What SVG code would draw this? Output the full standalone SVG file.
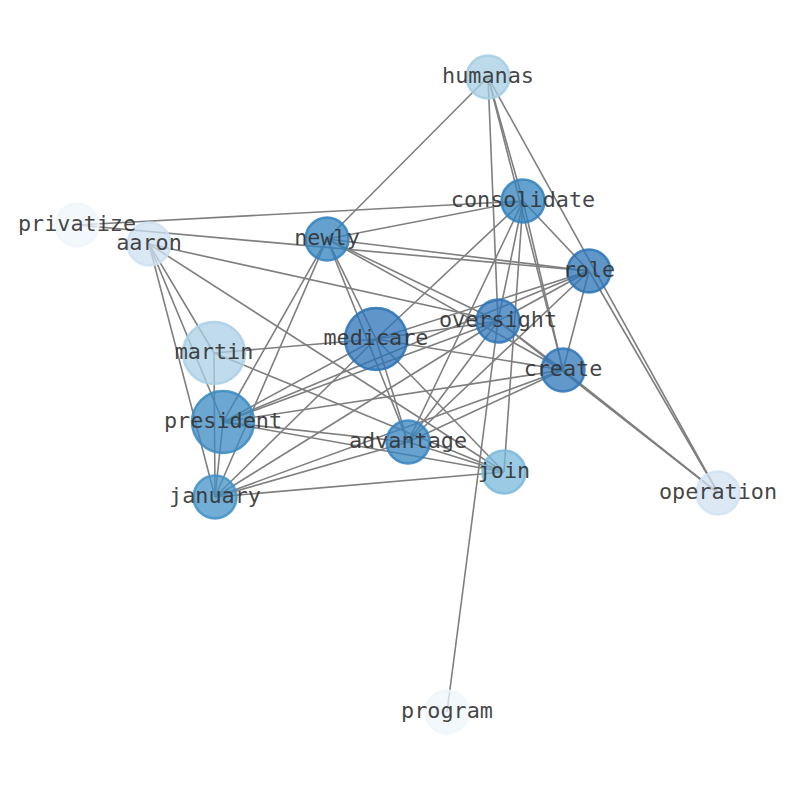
<svg xmlns="http://www.w3.org/2000/svg" width="794" height="790" viewBox="0 0 794 790">
<style>
.e{stroke:#7f7f7f;stroke-width:1.6;fill:none}
.n{fill-opacity:0.75;stroke-width:2.5;stroke-opacity:0.85}
.t{font-family:"DejaVu Sans Mono","Liberation Mono",monospace;font-size:21.8px;fill:#333;fill-opacity:0.92;text-anchor:middle;dominant-baseline:central}
</style>
<rect width="794" height="790" fill="#fff"/>
<g id="edges">
<line class="e" x1="488" y1="77" x2="327" y2="239"/>
<line class="e" x1="488" y1="77" x2="498" y2="321"/>
<line class="e" x1="488" y1="77" x2="523" y2="201"/>
<line class="e" x1="488" y1="77" x2="563" y2="370"/>
<line class="e" x1="488" y1="77" x2="718" y2="493"/>
<line class="e" x1="77" y1="225" x2="523" y2="201"/>
<line class="e" x1="77" y1="225" x2="589" y2="271"/>
<line class="e" x1="149" y1="244" x2="498" y2="321"/>
<line class="e" x1="149" y1="244" x2="504" y2="472"/>
<line class="e" x1="149" y1="244" x2="215" y2="497"/>
<line class="e" x1="149" y1="244" x2="223" y2="422"/>
<line class="e" x1="149" y1="244" x2="214" y2="353"/>
<line class="e" x1="327" y1="239" x2="523" y2="201"/>
<line class="e" x1="327" y1="239" x2="589" y2="271"/>
<line class="e" x1="327" y1="239" x2="498" y2="321"/>
<line class="e" x1="327" y1="239" x2="563" y2="370"/>
<line class="e" x1="327" y1="239" x2="376" y2="339"/>
<line class="e" x1="327" y1="239" x2="408" y2="442"/>
<line class="e" x1="327" y1="239" x2="223" y2="422"/>
<line class="e" x1="327" y1="239" x2="215" y2="497"/>
<line class="e" x1="523" y1="201" x2="376" y2="339"/>
<line class="e" x1="523" y1="201" x2="589" y2="271"/>
<line class="e" x1="523" y1="201" x2="498" y2="321"/>
<line class="e" x1="523" y1="201" x2="563" y2="370"/>
<line class="e" x1="523" y1="201" x2="408" y2="442"/>
<line class="e" x1="523" y1="201" x2="504" y2="472"/>
<line class="e" x1="214" y1="353" x2="376" y2="339"/>
<line class="e" x1="214" y1="353" x2="504" y2="472"/>
<line class="e" x1="214" y1="353" x2="215" y2="497"/>
<line class="e" x1="223" y1="422" x2="376" y2="339"/>
<line class="e" x1="223" y1="422" x2="563" y2="370"/>
<line class="e" x1="223" y1="422" x2="408" y2="442"/>
<line class="e" x1="223" y1="422" x2="504" y2="472"/>
<line class="e" x1="223" y1="422" x2="215" y2="497"/>
<line class="e" x1="223" y1="422" x2="498" y2="321"/>
<line class="e" x1="215" y1="497" x2="376" y2="339"/>
<line class="e" x1="215" y1="497" x2="498" y2="321"/>
<line class="e" x1="215" y1="497" x2="563" y2="370"/>
<line class="e" x1="215" y1="497" x2="408" y2="442"/>
<line class="e" x1="215" y1="497" x2="504" y2="472"/>
<line class="e" x1="376" y1="339" x2="498" y2="321"/>
<line class="e" x1="376" y1="339" x2="589" y2="271"/>
<line class="e" x1="376" y1="339" x2="563" y2="370"/>
<line class="e" x1="376" y1="339" x2="408" y2="442"/>
<line class="e" x1="376" y1="339" x2="504" y2="472"/>
<line class="e" x1="498" y1="321" x2="589" y2="271"/>
<line class="e" x1="498" y1="321" x2="408" y2="442"/>
<line class="e" x1="498" y1="321" x2="563" y2="370"/>
<line class="e" x1="498" y1="321" x2="718" y2="493"/>
<line class="e" x1="447" y1="712" x2="498" y2="321"/>
<line class="e" x1="589" y1="271" x2="563" y2="370"/>
<line class="e" x1="589" y1="271" x2="408" y2="442"/>
<line class="e" x1="589" y1="271" x2="718" y2="493"/>
<line class="e" x1="589" y1="271" x2="223" y2="422"/>
<line class="e" x1="563" y1="370" x2="718" y2="493"/>
<line class="e" x1="563" y1="370" x2="408" y2="442"/>
<line class="e" x1="408" y1="442" x2="504" y2="472"/>
</g>
<g id="humanas"><circle class="n" cx="488" cy="77" r="21.5" fill="#a5cde3" stroke="#a5cde3"/><text class="t" x="488" y="75.5">humanas</text></g>
<g id="consolidate"><circle class="n" cx="523" cy="201" r="21.5" fill="#3181bd" stroke="#3181bd"/><text class="t" x="523" y="199.5">consolidate</text></g>
<g id="aaron"><circle class="n" cx="149" cy="244" r="21.5" fill="#cde0f1" stroke="#cde0f1"/><text class="t" x="149" y="242.5">aaron</text></g>
<g id="privatize"><circle class="n" cx="77" cy="225" r="21.5" fill="#eff6fc" stroke="#eff6fc"/><text class="t" x="77" y="223.5">privatize</text></g>
<g id="newly"><circle class="n" cx="327" cy="239" r="21.5" fill="#3181bd" stroke="#3181bd"/><text class="t" x="327" y="237.5">newly</text></g>
<g id="role"><circle class="n" cx="589" cy="271" r="21.5" fill="#2b73b6" stroke="#2b73b6"/><text class="t" x="589" y="269.5">role</text></g>
<g id="oversight"><circle class="n" cx="498" cy="321" r="21.5" fill="#2e76b8" stroke="#2e76b8"/><text class="t" x="498" y="319.5">oversight</text></g>
<g id="medicare"><circle class="n" cx="376" cy="339" r="31" fill="#2a72b5" stroke="#2a72b5"/><text class="t" x="376" y="337.5">medicare</text></g>
<g id="martin"><circle class="n" cx="214" cy="353" r="31" fill="#a9cfe5" stroke="#a9cfe5"/><text class="t" x="214" y="351.5">martin</text></g>
<g id="create"><circle class="n" cx="563" cy="370" r="21.5" fill="#2e76b8" stroke="#2e76b8"/><text class="t" x="563" y="368.5">create</text></g>
<g id="president"><circle class="n" cx="223" cy="422" r="31" fill="#3a8ac2" stroke="#3a8ac2"/><text class="t" x="223" y="420.5">president</text></g>
<g id="advantage"><circle class="n" cx="408" cy="442" r="21.5" fill="#3584bf" stroke="#3584bf"/><text class="t" x="408" y="440.5">advantage</text></g>
<g id="join"><circle class="n" cx="504" cy="472" r="21.5" fill="#7ab8dc" stroke="#7ab8dc"/><text class="t" x="504" y="470.5">join</text></g>
<g id="january"><circle class="n" cx="215" cy="497" r="21.5" fill="#4292c6" stroke="#4292c6"/><text class="t" x="215" y="495.5">january</text></g>
<g id="operation"><circle class="n" cx="718" cy="493" r="21.5" fill="#d0e2f2" stroke="#d0e2f2"/><text class="t" x="718" y="491.5">operation</text></g>
<g id="program"><circle class="n" cx="447" cy="712" r="21.5" fill="#eff6fc" stroke="#eff6fc"/><text class="t" x="447" y="710.5">program</text></g>
</svg>
